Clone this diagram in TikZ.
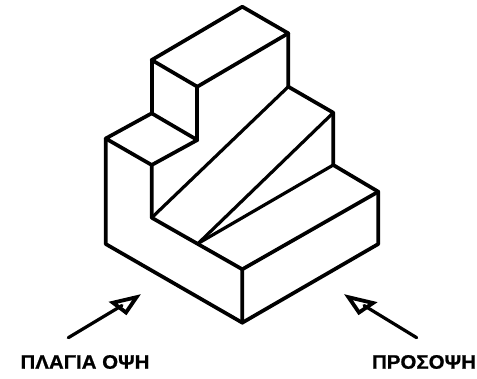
\documentclass[tikz,border=0pt]{standalone}
\usepackage{fontspec}
\setmainfont{Liberation Sans}[BoldFeatures={FakeBold=0.8}]
\usetikzlibrary{positioning}

\begin{document}
\begin{tikzpicture}[x=1pt,y=-1pt,
    edge/.style={line width=3.7pt,line join=round,line cap=round},
    thin edge/.style={line width=3.2pt,line join=round,line cap=round},
    head/.style={line width=3.8pt,line join=miter,miter limit=3},
    label/.style={font=\bfseries\fontsize{19.5}{22}\selectfont,inner sep=0pt,text=black,xscale=1.05}
    ]
    \useasboundingbox (0,0) rectangle (477,378);

    % the corners of the block
    \coordinate (top) at (242.3,6.7);
    \coordinate (a) at (288.3,33.3);
    \coordinate (b) at (151.7,60);
    \coordinate (c) at (197.3,86.7);
    \coordinate (d) at (288.3,86.7);
    \coordinate (e) at (151.7,113.3);
    \coordinate (f) at (197.3,140);
    \coordinate (g) at (105.7,138.5);
    \coordinate (h) at (151.7,165);
    \coordinate (i) at (333.3,112.7);
    \coordinate (j) at (333.3,165);
    \coordinate (k) at (378.3,191.7);
    \coordinate (l) at (378.3,244);
    \coordinate (m) at (242.3,269.3);
    \coordinate (n) at (242.3,322.7);
    \coordinate (o) at (105.7,244);
    \coordinate (p) at (151.7,217.7);
    \coordinate (q) at (198.3,243.3);

    % the edges
    \draw[edge] (top) -- (a) -- (c) -- (b) -- cycle;
    \draw[edge] (b) -- (e);
    \draw[edge] (c) -- (f);
    \draw[edge] (e) -- (f) -- (h) -- (g) -- cycle;
    \draw[edge] (g) -- (o) -- (n) -- (l) -- (k) -- (j) -- (i) -- (d) -- (a);
    \draw[edge] (h) -- (p) -- (m) -- (n);
    \draw[edge] (m) -- (k);
    \draw[thin edge] (d) -- (p);
    \draw[thin edge] (i) -- (q);
    \draw[thin edge] (j) -- (q);

    % the views
    \coordinate (s1) at (68.3,337.7);
    \coordinate (s2) at (122,305.5);
    \coordinate (t1) at (136.5,297.2);
    \coordinate (t2) at (113,302.7);
    \coordinate (t3) at (126,312.5);
    \coordinate (r1) at (416.7,337.7);
    \coordinate (r2) at (364,305.5);
    \coordinate (u1) at (348.5,297.2);
    \coordinate (u2) at (373,303);
    \coordinate (u3) at (359,312.5);

    \draw[head] (t1) -- (t2) -- (t3) -- cycle;
    \draw[thin edge] (s1) -- (s2);
    \draw[head] (u1) -- (u2) -- (u3) -- cycle;
    \draw[thin edge] (r1) -- (r2);

    \node (side) [label] at (85,362) {ΠΛΑΓΙΑ ΟΨΗ};
    \node (front) [label] at (424,362) {ΠΡΟΣΟΨΗ};
\end{tikzpicture}
\end{document}
